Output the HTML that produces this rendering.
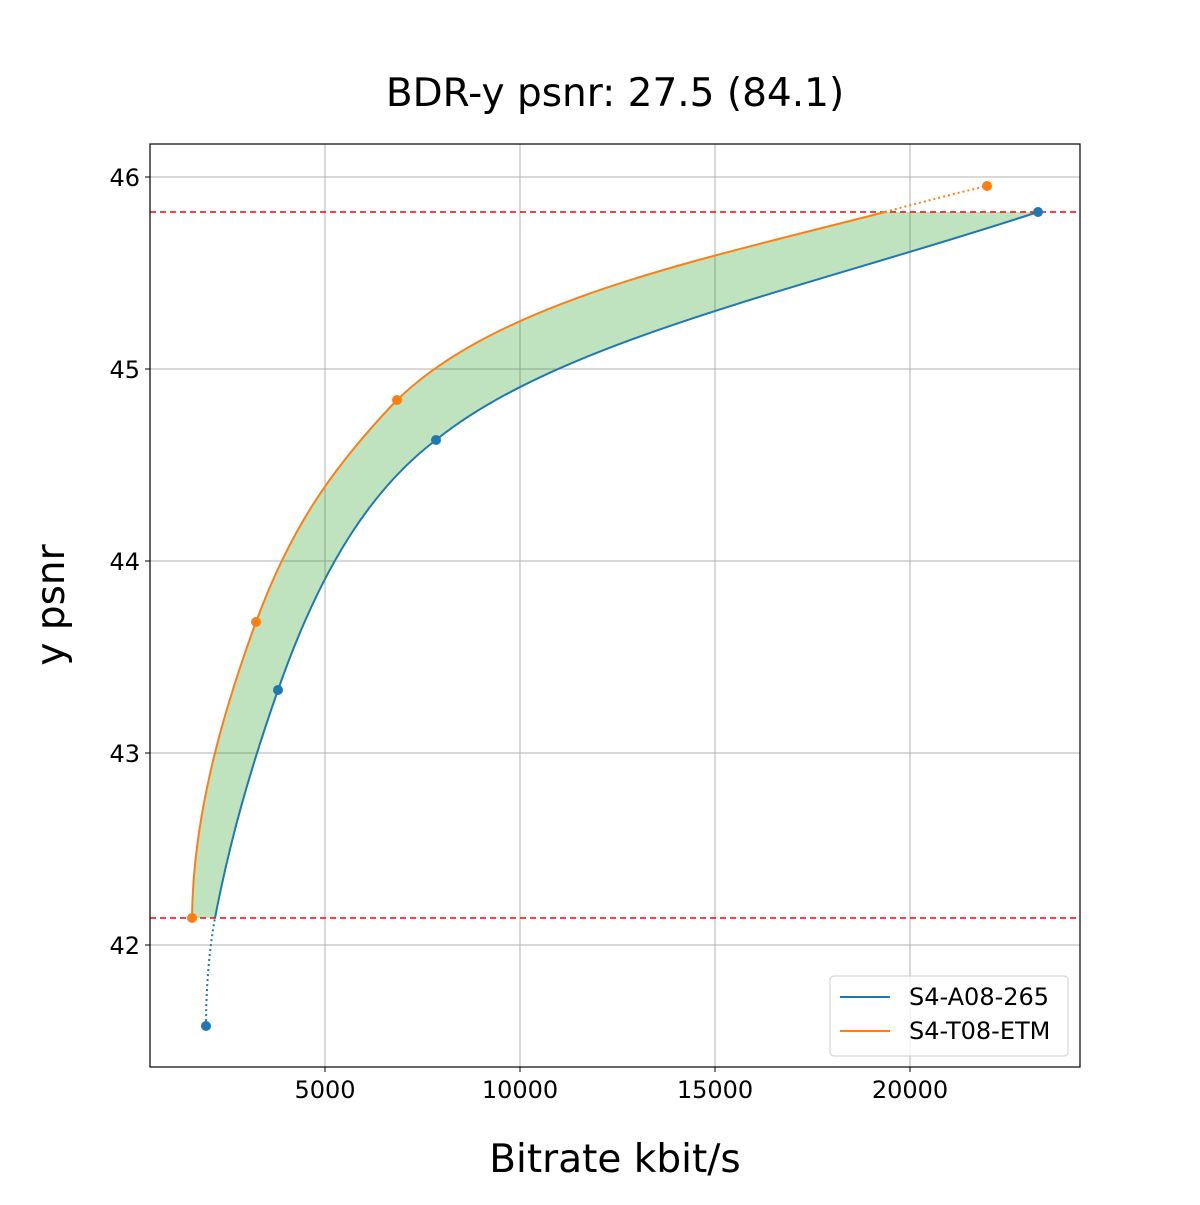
<!DOCTYPE html>
<html><head><meta charset="utf-8"><style>body{margin:0;background:#fff}</style></head>
<body>
<svg width="1200" height="1200" xmlns="http://www.w3.org/2000/svg" font-family="DejaVu Sans, Liberation Sans, sans-serif">
<rect width="1200" height="1200" fill="#fff"/>
<g stroke="#b0b0b0" stroke-width="1">
<line x1="325" y1="144" x2="325" y2="1067"/><line x1="520" y1="144" x2="520" y2="1067"/>
<line x1="715" y1="144" x2="715" y2="1067"/><line x1="910" y1="144" x2="910" y2="1067"/>
<line x1="150" y1="177" x2="1080" y2="177"/><line x1="150" y1="369" x2="1080" y2="369"/>
<line x1="150" y1="561" x2="1080" y2="561"/><line x1="150" y1="753" x2="1080" y2="753"/>
<line x1="150" y1="945" x2="1080" y2="945"/>
</g>
<path d="M192,918 C193,820 220,720 256,622 C290,530 330,470 397,400 C500,300 700,260 885,212 L1038,212 C800,290 560,340 436,440 C370,490 320,570 278,690 C250,770 230,840 215,918 Z" fill="#2ca02c" fill-opacity="0.3"/>
<line x1="150" y1="212" x2="1080" y2="212" stroke="#ff0000" stroke-width="1.6" stroke-dasharray="6,4"/>
<line x1="150" y1="918" x2="1080" y2="918" stroke="#ff0000" stroke-width="1.6" stroke-dasharray="6,4"/>
<path d="M206,1026 C206,990 209,950 215,918" fill="none" stroke="#1f77b4" stroke-width="2" stroke-dasharray="2,3"/>
<path d="M215,918 C230,840 250,770 278,690 C320,570 370,490 436,440 C560,340 800,290 1038,212" fill="none" stroke="#1f77b4" stroke-width="2"/>
<path d="M192,918 C193,820 220,720 256,622 C290,530 330,470 397,400 C500,300 700,260 885,212" fill="none" stroke="#ff7f0e" stroke-width="2"/>
<path d="M885,212 Q940,197 987,186" fill="none" stroke="#ff7f0e" stroke-width="2" stroke-dasharray="2,3"/>
<g fill="#1f77b4"><circle cx="206" cy="1026" r="5"/><circle cx="278" cy="690" r="5"/><circle cx="436" cy="440" r="5"/><circle cx="1038" cy="212" r="5"/></g>
<g fill="#ff7f0e"><circle cx="192" cy="918" r="5"/><circle cx="256" cy="622" r="5"/><circle cx="397" cy="400" r="5"/><circle cx="987" cy="186" r="5"/></g>
<rect x="150" y="144" width="930" height="923" fill="none" stroke="#000" stroke-width="1.2"/>
<g stroke="#000"><line x1="325" y1="1067" x2="325" y2="1072"/><line x1="520" y1="1067" x2="520" y2="1072"/><line x1="715" y1="1067" x2="715" y2="1072"/><line x1="910" y1="1067" x2="910" y2="1072"/>
<line x1="145" y1="177" x2="150" y2="177"/><line x1="145" y1="369" x2="150" y2="369"/><line x1="145" y1="561" x2="150" y2="561"/><line x1="145" y1="753" x2="150" y2="753"/><line x1="145" y1="945" x2="150" y2="945"/></g>
<g font-size="24" text-anchor="middle"><text x="325" y="1098">5000</text><text x="520" y="1098">10000</text><text x="715" y="1098">15000</text><text x="910" y="1098">20000</text></g>
<g font-size="24" text-anchor="end"><text x="140" y="186">46</text><text x="140" y="378">45</text><text x="140" y="570">44</text><text x="140" y="762">43</text><text x="140" y="954">42</text></g>
<text x="615" y="106" font-size="39" text-anchor="middle">BDR-y psnr: 27.5 (84.1)</text>
<text x="615" y="1172" font-size="39" text-anchor="middle">Bitrate kbit/s</text>
<text transform="translate(64,605) rotate(-90)" font-size="39" text-anchor="middle">y psnr</text>
<rect x="830" y="976" width="238" height="80" rx="4" fill="#fff" fill-opacity="0.8" stroke="#ccc"/>
<line x1="840" y1="997" x2="890" y2="997" stroke="#1f77b4" stroke-width="2"/>
<line x1="840" y1="1031" x2="890" y2="1031" stroke="#ff7f0e" stroke-width="2"/>
<text x="909" y="1005" font-size="24">S4-A08-265</text>
<text x="909" y="1039" font-size="24">S4-T08-ETM</text>
</svg>
</body></html>
